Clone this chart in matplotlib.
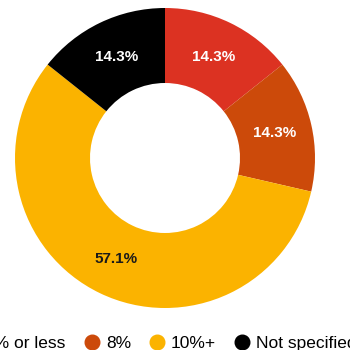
import matplotlib.pyplot as plt

plt.rcParams['font.family'] = ['Liberation Sans', 'DejaVu Sans']

labels = ['6% or less', '8%', '10%+', 'Not specified']
shares = [14.3, 14.3, 57.1, 14.3]
colors = ['#DC3222', '#CC4A0A', '#FBB300', '#000000']
text_colors = ['white', 'white', '#1a1a1a', 'white']

fig = plt.figure(figsize=(3.5, 3.5), dpi=100)
ax = fig.add_axes([15 / 350, 42 / 350, 300 / 350, 300 / 350])

wedges, texts, autotexts = ax.pie(
    shares, colors=colors, startangle=90, counterclock=False,
    autopct='%.1f%%', pctdistance=0.75,
    wedgeprops=dict(width=0.5, edgecolor='none'),
    textprops=dict(fontsize=11, fontweight='bold'))
for t, c in zip(autotexts, text_colors):
    t.set_color(c)
ax.set_xlim(-1, 1)
ax.set_ylim(-1, 1)
ax.set_aspect('equal')

# round markers for the legend
handles = [plt.Line2D([], [], marker='o', linestyle='', markersize=10.5,
                      markerfacecolor=c, markeredgecolor=c) for c in colors]
fig.legend(handles, labels, loc='center', bbox_to_anchor=(160 / 350, 7 / 350),
           ncol=4, frameon=False, fontsize=12.5, handlelength=0.8,
           handletextpad=0.4, columnspacing=1.1, borderpad=0, borderaxespad=0)

fig.savefig('out.png', dpi=100)
